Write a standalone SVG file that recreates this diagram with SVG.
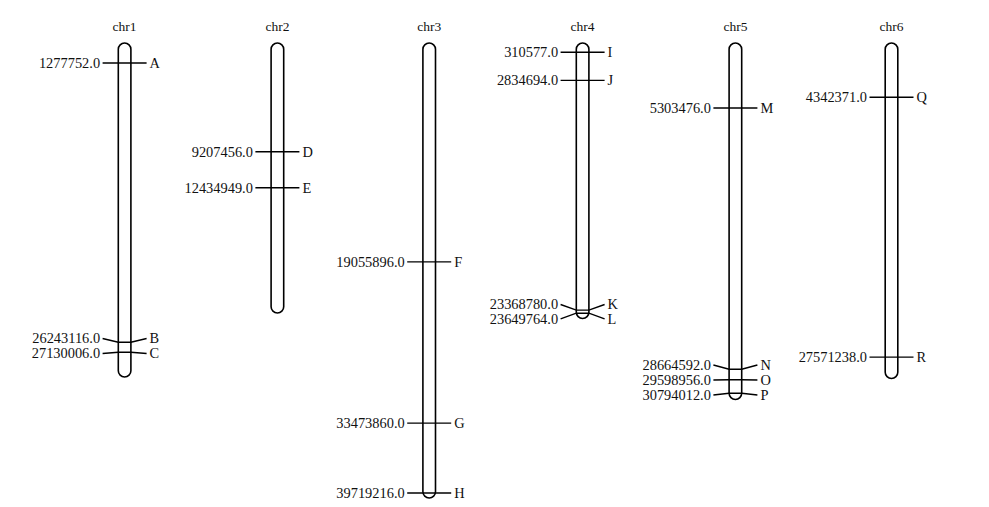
<svg xmlns="http://www.w3.org/2000/svg" width="989" height="507" viewBox="0 0 989 507">
<style>
text{font-family:"Liberation Serif","Times New Roman",serif;font-size:14.4px;fill:#111}
.t{text-anchor:middle;font-size:13.5px}
.p{text-anchor:end}
.chr{fill:#fff;stroke:#000;stroke-width:1.6}
.m{fill:none;stroke:#000;stroke-width:1.4}
</style>
<rect width="989" height="507" fill="#fff"/>
<g id="chr1">
<text class="t" x="124.6" y="30.5">chr1</text>
<rect class="chr" x="118.3" y="43" width="12.6" height="334" rx="6.3"/>
</g>
<g id="chr2">
<text class="t" x="277.4" y="30.5">chr2</text>
<rect class="chr" x="271.1" y="43" width="12.6" height="270" rx="6.3"/>
</g>
<g id="chr3">
<text class="t" x="429.2" y="30.5">chr3</text>
<rect class="chr" x="422.9" y="43" width="12.6" height="455" rx="6.3"/>
</g>
<g id="chr4">
<text class="t" x="582.6" y="30.5">chr4</text>
<rect class="chr" x="576.3" y="43" width="12.6" height="275.5" rx="6.3"/>
</g>
<g id="chr5">
<text class="t" x="735.4" y="30.5">chr5</text>
<rect class="chr" x="729.1" y="43" width="12.6" height="356.5" rx="6.3"/>
</g>
<g id="chr6">
<text class="t" x="891.5" y="30.5">chr6</text>
<rect class="chr" x="885.2" y="43" width="12.6" height="335.5" rx="6.3"/>
</g>
<g id="connectors">
<polyline class="m" points="102.6,63 146.6,63"/>
<polyline class="m" points="102.6,338.5 118.3,342.3 130.9,342.3 146.6,338.5"/>
<polyline class="m" points="102.6,353.5 118.3,352.2 130.9,352.2 146.6,353.5"/>
<polyline class="m" points="255.4,151.7 299.4,151.7"/>
<polyline class="m" points="255.4,187.8 299.4,187.8"/>
<polyline class="m" points="407.2,261.9 451.2,261.9"/>
<polyline class="m" points="407.2,423.1 451.2,423.1"/>
<polyline class="m" points="407.2,493 451.2,493"/>
<polyline class="m" points="560.6,52.2 604.6,52.2"/>
<polyline class="m" points="560.6,80.4 604.6,80.4"/>
<polyline class="m" points="560.6,304.5 576.3,310.1 588.9,310.1 604.6,304.5"/>
<polyline class="m" points="560.6,318.8 576.3,313.2 588.9,313.2 604.6,318.8"/>
<polyline class="m" points="713.4,108 757.4,108"/>
<polyline class="m" points="713.4,365 729.1,369.3 741.7,369.3 757.4,365"/>
<polyline class="m" points="713.4,380 729.1,379.8 741.7,379.8 757.4,380"/>
<polyline class="m" points="713.4,395 729.1,393.2 741.7,393.2 757.4,395"/>
<polyline class="m" points="869.5,97.3 913.5,97.3"/>
<polyline class="m" points="869.5,357.1 913.5,357.1"/>
</g>
<g id="labels">
<text class="p" x="100.1" y="67.8">1277752.0</text><text x="149.6" y="67.8">A</text>
<text class="p" x="100.1" y="343.3">26243116.0</text><text x="149.6" y="343.3">B</text>
<text class="p" x="100.1" y="358.3">27130006.0</text><text x="149.6" y="358.3">C</text>
<text class="p" x="252.9" y="156.5">9207456.0</text><text x="302.4" y="156.5">D</text>
<text class="p" x="252.9" y="192.6">12434949.0</text><text x="302.4" y="192.6">E</text>
<text class="p" x="404.7" y="266.7">19055896.0</text><text x="454.2" y="266.7">F</text>
<text class="p" x="404.7" y="427.9">33473860.0</text><text x="454.2" y="427.9">G</text>
<text class="p" x="404.7" y="497.8">39719216.0</text><text x="454.2" y="497.8">H</text>
<text class="p" x="558.1" y="57">310577.0</text><text x="607.6" y="57">I</text>
<text class="p" x="558.1" y="85.2">2834694.0</text><text x="607.6" y="85.2">J</text>
<text class="p" x="558.1" y="309.3">23368780.0</text><text x="607.6" y="309.3">K</text>
<text class="p" x="558.1" y="323.6">23649764.0</text><text x="607.6" y="323.6">L</text>
<text class="p" x="710.9" y="112.8">5303476.0</text><text x="760.4" y="112.8">M</text>
<text class="p" x="710.9" y="369.8">28664592.0</text><text x="760.4" y="369.8">N</text>
<text class="p" x="710.9" y="384.8">29598956.0</text><text x="760.4" y="384.8">O</text>
<text class="p" x="710.9" y="399.8">30794012.0</text><text x="760.4" y="399.8">P</text>
<text class="p" x="867" y="102.1">4342371.0</text><text x="916.5" y="102.1">Q</text>
<text class="p" x="867" y="361.9">27571238.0</text><text x="916.5" y="361.9">R</text>
</g>
</svg>
